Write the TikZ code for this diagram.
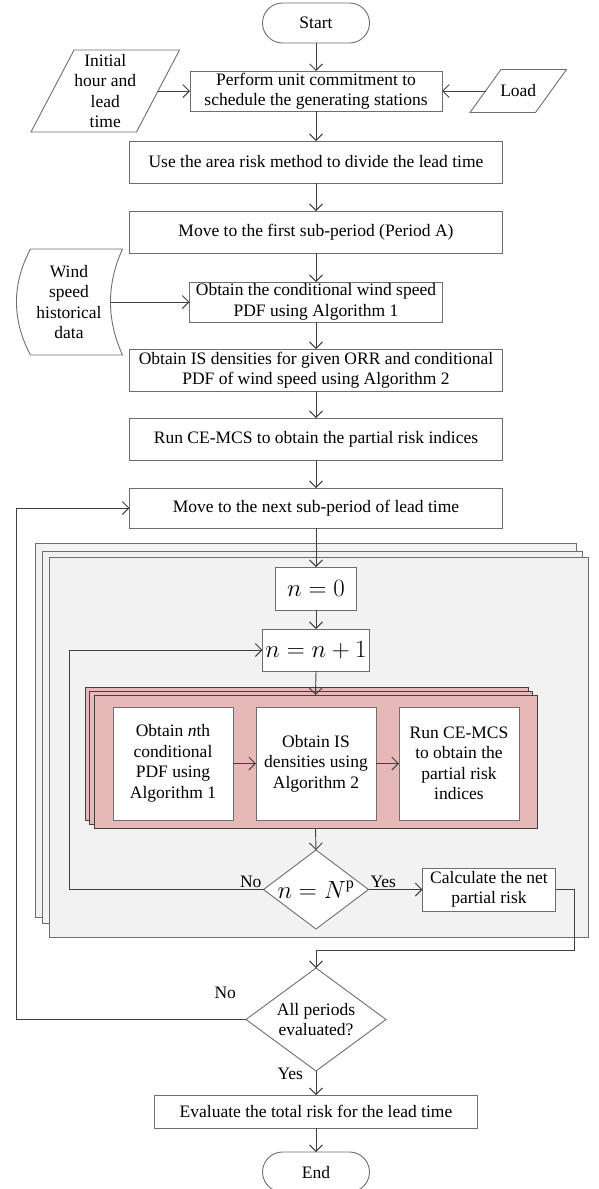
\documentclass[tikz,border=0pt]{standalone}
\usepackage{fontspec}
\setmainfont{Liberation Serif}
\usetikzlibrary{positioning, fit, calc, arrows.meta, shapes.geometric}

\definecolor{panelgray}{HTML}{F2F2F2}
\definecolor{panelpink}{HTML}{E6B9B8}
\definecolor{lineink}{HTML}{404040}
\definecolor{boxink}{HTML}{6E6E6E}

\pgfdeclarelayer{panels}
\pgfdeclarelayer{pinks}
\pgfsetlayers{panels,pinks,main}

\begin{document}
\begin{tikzpicture}[
  x=1pt, y=-1pt,
  font=\fontsize{17.5}{20.5}\selectfont,
  >={Straight Barb[length=6.5pt,width=13pt]},
  flowbox/.style={rectangle, draw=boxink, fill=white, line width=0.9pt, align=center, inner sep=0pt, outer sep=0pt},
  flowterm/.style={flowbox, rounded corners=20pt, minimum width=107pt, minimum height=40pt},
  flowdata/.style={rectangle, align=center, inner sep=0pt, outer sep=0pt},
  flowline/.style={draw=boxink, line width=0.9pt},
  flowcheck/.style={diamond, draw=boxink, fill=white, line width=0.9pt, align=center, inner sep=0pt, outer sep=0pt},
  flowmath/.style={flowbox, font=\fontsize{23}{27}\selectfont},
  flowarrow/.style={->, draw=lineink, line width=0.9pt},
  flowpanel/.style={draw=boxink, fill=panelgray, line width=0.9pt},
  pinkpanel/.style={draw=lineink, fill=panelpink, line width=0.9pt, outer sep=0pt},
  flowlabel/.style={inner sep=0pt, outer sep=0pt}
]
\useasboundingbox (0,0) rectangle (599,1189);

% Main column
\node[flowterm] (Start) at (316,23) {Start};
\node[flowbox, below=28pt of Start, minimum width=252pt, minimum height=40pt] (Commit) {Perform unit commitment to\\schedule the generating stations};
\node[flowbox, below=30pt of Commit, minimum width=373pt, minimum height=42pt] (AreaRisk) {Use the area risk method to divide the lead time};
\node[flowbox, below=28pt of AreaRisk, minimum width=373pt, minimum height=42pt] (FirstSub) {Move to the first sub-period (Period A)};
\node[flowbox, below=29pt of FirstSub, minimum width=253pt, minimum height=40pt] (WindPDF) {Obtain the conditional wind speed\\PDF using Algorithm 1};
\node[flowbox, below=27pt of WindPDF, minimum width=373pt, minimum height=42pt] (ISDens) {Obtain IS densities for given ORR and conditional\\PDF of wind speed using Algorithm 2};
\node[flowbox, below=27pt of ISDens, minimum width=373pt, minimum height=42pt] (RunMCS) {Run CE-MCS to obtain the partial risk indices};
\node[flowbox, below=28pt of RunMCS, minimum width=373pt, minimum height=40pt] (NextSub) {Move to the next sub-period of lead time};

% Data Inputs
\node[flowdata, left=32pt of Commit, minimum width=105.5pt, minimum height=82pt] (Init) {Initial\\hour and\\lead\\time};
\draw[flowline] ([xshift=21.5pt]Init.north west) -- ([xshift=21.5pt]Init.north east)
  -- ([xshift=-21.5pt]Init.south east) -- ([xshift=-21.5pt]Init.south west) -- cycle;
\node[flowdata, right=43.5pt of Commit, minimum width=65.5pt, minimum height=43pt] (Load) {Load};
\draw[flowline] ([xshift=15.5pt]Load.north west) -- ([xshift=15.5pt]Load.north east)
  -- ([xshift=-15.5pt]Load.south east) -- ([xshift=-15.5pt]Load.south west) -- cycle;
\node[flowdata, left=67pt of WindPDF, minimum width=107pt, minimum height=106pt] (WindData) {Wind\\speed\\historical\\data};
\draw[flowline] ([xshift=15pt]WindData.north west) -- (WindData.north east)
  .. controls ([xshift=-16pt,yshift=-35pt]WindData.north east) and ([xshift=-16pt,yshift=35pt]WindData.south east) .. (WindData.south east)
  -- ([xshift=15pt]WindData.south west)
  .. controls ([xshift=-3.7pt,yshift=35pt]WindData.south west) and ([xshift=-3.7pt,yshift=-35pt]WindData.north west) .. cycle;

% Inner loop
\node[flowmath, below=39pt of NextSub, minimum width=81pt, minimum height=43pt] (NZero) {$n=0$};
\node[flowmath, below=19pt of NZero, minimum width=107pt, minimum height=42pt] (NInc) {$n=n+1$};
\node[flowbox, below=36pt of NInc, minimum width=120pt, minimum height=113pt] (ObtIS) {Obtain IS\\densities using\\Algorithm 2};
\node[flowbox, left=23pt of ObtIS, minimum width=120pt, minimum height=113pt] (ObtPDF) {Obtain \textit{n}th\\conditional\\PDF using\\Algorithm 1};
\node[flowbox, right=23pt of ObtIS, minimum width=120pt, minimum height=113pt] (ObtMCS) {Run CE-MCS\\to obtain the\\partial risk\\indices};
\node[flowcheck, below=30pt of ObtIS, minimum width=105pt, minimum height=79pt, aspect=1.33, font=\fontsize{23}{27}\selectfont] (NCheck) {$n=N^{\mathrm{p}}$};
\node[flowbox, right=54pt of NCheck, minimum width=133pt, minimum height=43pt] (NetRisk) {Calculate the net\\partial risk};

% Closing steps
\node[flowcheck, below=39pt of NCheck, minimum width=140pt, minimum height=103pt, aspect=1.36] (AllDone) {All periods\\evaluated?};
\node[flowbox, below=24pt of AllDone, minimum width=323pt, minimum height=33pt] (TotalRisk) {Evaluate the total risk for the lead time};
\node[flowterm, below=24pt of TotalRisk] (End) {End};

% Stacked panels
\begin{pgfonlayer}{panels}
  \draw[flowpanel] ($(ObtPDF.west |- NZero.north)+(-78pt,24pt)$) rectangle ($(NetRisk.east |- NCheck.south)+(21pt,12pt)$);
  \draw[flowpanel] ($(ObtPDF.west |- NZero.north)+(-71pt,16pt)$) rectangle ($(NetRisk.east |- NCheck.south)+(27pt,6pt)$);
  \draw[flowpanel] ($(ObtPDF.west |- NZero.north)+(-64pt,10pt)$) rectangle ($(NetRisk.east |- NCheck.south)+(33pt,-8pt)$);
\end{pgfonlayer}
\begin{pgfonlayer}{pinks}
  \draw[pinkpanel] ($(ObtPDF.north west)+(-27.5pt,20pt)$) rectangle ($(ObtMCS.south east)+(9.5pt,0pt)$);
  \draw[pinkpanel] ($(ObtPDF.north west)+(-23.5pt,16pt)$) rectangle ($(ObtMCS.south east)+(13.5pt,-4pt)$);
  \node[pinkpanel, inner sep=0pt, fit={($(ObtPDF.north west)+(-19pt,12pt)$) ($(ObtMCS.south east)+(18pt,-8pt)$)}] (PinkFront) {};
\end{pgfonlayer}

% Labels
\node[flowlabel, above left=2pt and 2pt of NCheck.west] (NoInner) {No};
\node[flowlabel, above right=2pt and 2pt of NCheck.east] (YesInner) {Yes};
\node[flowlabel, above left=21pt and 10pt of AllDone.west] (NoOuter) {No};
\node[flowlabel, below left=-3pt and 13pt of AllDone.south] (YesOuter) {Yes};

% Routing
\draw[flowarrow] (Start) -- (Commit);
\draw[flowarrow] (Init.east) -- (Commit.west);
\draw[flowarrow] (Load.west) -- (Commit.east);
\draw[flowarrow] (Commit) -- (AreaRisk);
\draw[flowarrow] (AreaRisk) -- (FirstSub);
\draw[flowarrow] (FirstSub) -- (WindPDF);
\draw[flowarrow] ([xshift=-12pt]WindData.east) -- (WindPDF.west);
\draw[flowarrow] (WindPDF) -- (ISDens);
\draw[flowarrow] (ISDens) -- (RunMCS);
\draw[flowarrow] (RunMCS) -- (NextSub);
\draw[flowarrow] (NextSub) -- (NZero);
\draw[flowarrow] (NZero) -- (NInc);
\draw[flowarrow] (NInc.south) -- (PinkFront.north);
\draw[flowarrow] (ObtPDF) -- (ObtIS);
\draw[flowarrow] (ObtIS) -- (ObtMCS);
\draw[flowarrow] (PinkFront.south) -- (NCheck.north);
\draw[flowarrow] (NCheck) -- (NetRisk);

% Loops back
\coordinate (InnerLoop) at ([xshift=-193pt]NInc.west);
\draw[flowarrow] (NCheck.west) -| (InnerLoop) -- (NInc.west);
\coordinate (NetTurn) at ([xshift=19pt]NetRisk.east);
\coordinate (MergePt) at ([yshift=18pt]AllDone.north);
\draw[flowarrow] (NetRisk.east) -- (NetTurn) |- (MergePt) -- (AllDone.north);
\coordinate (OuterLoop) at ([xshift=-113pt]NextSub.west);
\draw[flowarrow] (AllDone.west) -| (OuterLoop) -- (NextSub.west);
\draw[flowarrow] (AllDone) -- (TotalRisk);
\draw[flowarrow] (TotalRisk) -- (End);

\end{tikzpicture}
\end{document}
